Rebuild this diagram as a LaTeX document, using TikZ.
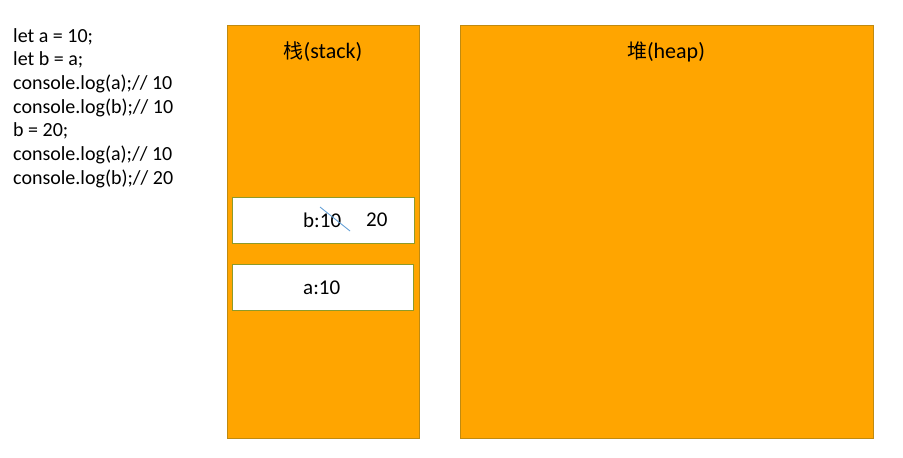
\documentclass[tikz,border=0pt]{standalone}
\usepackage{fontspec}
\setmainfont{Carlito}
\newfontfamily\cjk{Noto Sans CJK SC}
\definecolor{orng}{HTML}{FFA500}
\definecolor{orngline}{HTML}{C08A10}
\definecolor{boxline}{HTML}{8E9A2A}
\definecolor{strike}{HTML}{5B9BD5}
\begin{document}
\begin{tikzpicture}[x=1pt,y=-1pt,
  area/.style={draw=orngline,fill=orng,line width=0.9pt},
  cell/.style={draw=boxline,fill=white,line width=0.9pt},
  lbl/.style={inner sep=0pt,font=\fontsize{21}{25}\selectfont},
  code/.style={inner sep=0pt,anchor=base west,font=\fontsize{20}{24}\selectfont},
  title/.style={inner sep=0pt,font=\fontsize{22}{26}\selectfont}]
\useasboundingbox (0,0) rectangle (903,458);
\fill[white] (0,0) rectangle (903,458);
\draw[area] (227,25) rectangle (419,438);
\draw[area] (460,25) rectangle (873,438);
\node[title] (stk) at (323,52) {{\cjk\fontsize{20}{24}\selectfont 栈}(stack)};
\node[title] (hp) at (666,52) {{\cjk\fontsize{20}{24}\selectfont 堆}(heap)};
\draw[cell] (232,197) rectangle (414,243);
\draw[cell] (232,264) rectangle (413,310);
\node[lbl,anchor=west] (b10) at (303,220) {b:10};
\node[lbl,anchor=west] (b20) at (366,220) {20};
\node[lbl,anchor=west] (a10) at (303,288) {a:10};
\draw[strike,line width=0.8pt] (320,207) -- (350,231);
\node[code] (c1) at (13,42) {let a = 10;};
\node[code] (c2) at (13,65.7) {let b = a;};
\node[code] (c3) at (13,89.3) {console.log(a);// 10};
\node[code] (c4) at (13,113) {console.log(b);// 10};
\node[code] (c5) at (13,136.7) {b = 20;};
\node[code] (c6) at (13,160.3) {console.log(a);// 10};
\node[code] (c7) at (13,184) {console.log(b);// 20};
\end{tikzpicture}
\end{document}
